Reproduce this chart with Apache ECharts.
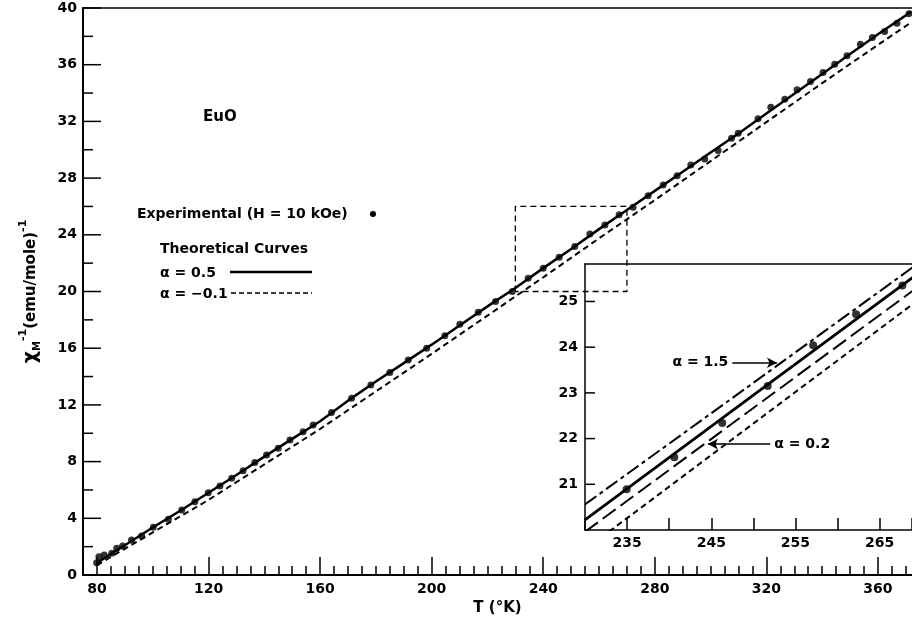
<!DOCTYPE html>
<html><head><meta charset="utf-8">
<script src="https://cdn.jsdelivr.net/npm/echarts@6/dist/echarts.min.js"></script>
<style>html,body{margin:0;padding:0;background:#fff}#c{width:912px;height:623px}</style>
</head><body><div id="c"></div>
<script>
// ---- tick labels ----
const xTickLabels = [80, 120, 160, 200, 240, 280, 320, 360];
const yTickLabels = [0, 4, 8, 12, 16, 20, 24, 28, 32, 36, 40];
const insetXLabels = [235, 245, 255, 265];
const insetYLabels = [21, 22, 23, 24, 25];

// ---- experimental points, main plot (T in K, 1/chi) ----
const expT = [79.9, 80.7, 82.6, 85.3, 87.1, 89.2, 92.4, 96.0, 100.2, 105.6, 110.4, 115.1, 119.9, 124.1, 128.3, 132.4, 136.6, 140.8, 145.0, 149.2, 153.9, 157.5, 164.1, 171.3, 178.2, 185.0, 191.6, 198.2, 204.7, 210.1, 216.7, 222.9, 228.9, 234.6, 240.0, 245.7, 251.3, 256.7, 262.1, 267.2, 272.2, 277.6, 283.0, 288.0, 292.9, 297.9, 302.7, 307.5, 309.9, 317.0, 321.6, 326.6, 331.0, 335.8, 340.3, 344.5, 348.9, 353.7, 358.0, 362.4, 366.8, 371.1];
const expV = [0.87, 1.29, 1.41, 1.53, 1.88, 2.05, 2.47, 2.75, 3.36, 3.93, 4.59, 5.17, 5.81, 6.28, 6.82, 7.36, 7.93, 8.47, 8.94, 9.53, 10.11, 10.59, 11.46, 12.47, 13.41, 14.28, 15.17, 16.0, 16.87, 17.69, 18.54, 19.29, 20.0, 20.94, 21.64, 22.42, 23.17, 24.06, 24.7, 25.41, 25.95, 26.75, 27.52, 28.16, 28.93, 29.34, 29.94, 30.82, 31.17, 32.18, 33.0, 33.57, 34.23, 34.81, 35.45, 36.04, 36.63, 37.45, 37.92, 38.34, 38.93, 39.59];

// ---- theoretical curve alpha = 0.5 (solid) ----
const solidT = [80, 90, 100, 110, 120, 130, 140, 150, 160, 170, 180, 190, 200, 210, 220, 230, 240, 250, 260, 270, 280, 290, 300, 310, 320, 330, 340, 350, 360, 372];
const solidV = [0.85, 2.1, 3.35, 4.55, 5.8, 7.05, 8.35, 9.6, 10.85, 12.3, 13.65, 14.95, 16.25, 17.6, 18.95, 20.25, 21.65, 23.0, 24.4, 25.75, 27.1, 28.45, 29.8, 31.15, 32.55, 33.95, 35.35, 36.75, 38.15, 39.75];

// ---- theoretical curve alpha = -0.1 (dashed) ----
const dashT = [80, 90, 100, 110, 120, 130, 140, 150, 160, 180, 200, 220, 240, 260, 280, 300, 320, 340, 360, 372];
const dashV = [0.7, 1.85, 3.0, 4.15, 5.3, 6.55, 7.8, 9.05, 10.3, 12.95, 15.6, 18.3, 21.0, 23.75, 26.45, 29.2, 31.95, 34.7, 37.4, 39.0];

// ---- zoom box on main plot ----
const boxT = [230, 230, 270, 270, 230];
const boxV = [20, 26, 26, 20, 20];

// ---- inset ----
const insetExpT = [234.95, 240.6, 246.3, 251.7, 257.1, 262.2, 267.7];
const insetExpV = [20.89, 21.59, 22.34, 23.15, 24.04, 24.72, 25.35];
const insetT = [230, 250, 270];
const insetA15 = [20.56, 23.22, 25.89];
const insetA05 = [20.22, 22.95, 25.67];
const insetA02 = [19.96, 22.67, 25.38];
const insetAm01 = [19.57, 22.33, 25.09];
const arrowA15 = [[247.5, 23.66], [252.8, 23.66]];
const arrowA02 = [[252.0, 21.88], [244.6, 21.88]];

const pairs = (a, b) => a.map((v, i) => [v, b[i]]);
const minorX = [];
for (let t = 75; t <= 370; t += 5) minorX.push(t);
// y ticks: [value, length]
const mainYTicks = [];
for (let v = 0; v <= 40; v += 2) mainYTicks.push([v, v % 4 === 0 ? 18 : 10]);
const insetYTicks = insetYLabels.map(v => [v, 10]);

const FONT = 'DejaVu Sans';
const tickLabel = { color: '#000', fontFamily: FONT, fontWeight: 'bold', fontSize: 14 };
const blk = '#000';
const tl = (len, w) => ({ show: true, inside: true, length: len, lineStyle: { color: blk, width: w || 1.5 } });

function yTickRenderer(xLeft) {
  return function (params, api) {
    const v = api.value(0);
    const len = api.value(1);
    const p = api.coord([xLeft, v]);
    return { type: 'line', shape: { x1: p[0], y1: p[1], x2: p[0] + len, y2: p[1] },
      style: { stroke: blk, lineWidth: 1.5 } };
  };
}

const chart = echarts.init(document.getElementById('c'), null, { renderer: 'canvas' });
chart.setOption({
  animation: false,
  backgroundColor: '#fff',
  grid: [
    { left: 83, top: 8, bottom: 48, right: 0, show: false },
    { left: 585, top: 264, bottom: 93, right: 0, show: true, borderWidth: 0, backgroundColor: '#fff', z: 3 }
  ],
  xAxis: [
    { gridIndex: 0, type: 'value', min: 75, max: 372.2, position: 'bottom',
      axisLine: { show: true, lineStyle: { color: blk, width: 2 } },
      axisTick: Object.assign(tl(18), { customValues: xTickLabels }),
      axisLabel: Object.assign({ customValues: xTickLabels, margin: 7 }, tickLabel),
      splitLine: { show: false },
      name: 'T (°K)', nameLocation: 'middle', nameGap: 22,
      nameTextStyle: { color: blk, fontFamily: FONT, fontWeight: 'bold', fontSize: 15, verticalAlign: 'top' } },
    { gridIndex: 0, type: 'value', min: 75, max: 372.2, position: 'bottom',
      axisLine: { show: false },
      axisTick: Object.assign(tl(9), { customValues: minorX }),
      axisLabel: { show: false }, splitLine: { show: false } },
    { gridIndex: 0, type: 'value', min: 75, max: 372.2, position: 'top',
      axisLine: { show: true, lineStyle: { color: blk, width: 1.5 } },
      axisTick: { show: false }, axisLabel: { show: false }, splitLine: { show: false } },
    { gridIndex: 1, type: 'value', min: 230, max: 268.84, interval: 5, z: 4, position: 'bottom',
      axisLine: { show: true, lineStyle: { color: blk, width: 1.5 } },
      axisTick: tl(12),
      axisLabel: Object.assign({ customValues: insetXLabels, margin: 6 }, tickLabel),
      splitLine: { show: false } },
    { gridIndex: 1, type: 'value', min: 230, max: 268.84, z: 4, position: 'top',
      axisLine: { show: true, lineStyle: { color: blk, width: 1.5 } },
      axisTick: { show: false }, axisLabel: { show: false }, splitLine: { show: false } }
  ],
  yAxis: [
    { gridIndex: 0, type: 'value', min: 0, max: 40, interval: 4, position: 'left',
      axisLine: { show: true, lineStyle: { color: blk, width: 2 } },
      axisTick: { show: false },
      axisLabel: Object.assign({ customValues: yTickLabels, margin: 6 }, tickLabel),
      splitLine: { show: false },
      name: '{c|χ}{sub|M}{sup|-1}{p|(emu/mole)}{sup|-1}',
      nameLocation: 'middle', nameRotate: 90, nameGap: 37,
      nameTextStyle: { color: blk, fontFamily: FONT, fontWeight: 'bold',
        rich: {
          c: { fontSize: 19, fontWeight: 'bold', fontFamily: FONT, color: blk, lineHeight: 30, verticalAlign: 'middle' },
          sub: { fontSize: 10, fontWeight: 'bold', fontFamily: FONT, color: blk, lineHeight: 30, verticalAlign: 'bottom', padding: [0, 0, 4, 0] },
          sup: { fontSize: 11, fontWeight: 'bold', fontFamily: FONT, color: blk, lineHeight: 30, verticalAlign: 'top', padding: [2, 0, 0, 0] },
          p: { fontSize: 15, fontWeight: 'bold', fontFamily: FONT, color: blk, lineHeight: 30, verticalAlign: 'middle' }
        } } },
    { gridIndex: 1, type: 'value', min: 20, max: 25.82, interval: 1, z: 4, position: 'left',
      axisLine: { show: true, lineStyle: { color: blk, width: 1.5 } },
      axisTick: { show: false },
      axisLabel: Object.assign({ customValues: insetYLabels, margin: 7 }, tickLabel),
      splitLine: { show: false } }
  ],
  series: [
    { type: 'custom', xAxisIndex: 0, yAxisIndex: 0, data: mainYTicks, silent: true, clip: false, z: 3,
      encode: { x: -1, y: 0 }, renderItem: yTickRenderer(75) },
    { type: 'line', xAxisIndex: 0, yAxisIndex: 0, data: pairs(solidT, solidV), showSymbol: false, z: 2,
      lineStyle: { color: blk, width: 2.5 } },
    { type: 'line', xAxisIndex: 0, yAxisIndex: 0, data: pairs(dashT, dashV), showSymbol: false, z: 2,
      lineStyle: { color: blk, width: 2, type: [6, 4] } },
    { type: 'scatter', xAxisIndex: 0, yAxisIndex: 0, data: pairs(expT, expV), symbol: 'circle', symbolSize: 7, z: 2,
      itemStyle: { color: blk } },
    { type: 'line', xAxisIndex: 0, yAxisIndex: 0, data: pairs(boxT, boxV), showSymbol: false, z: 10, clip: false,
      lineStyle: { color: blk, width: 1.3, type: [6, 4] } },
    // inset
    { type: 'custom', xAxisIndex: 3, yAxisIndex: 1, data: insetYTicks, silent: true, clip: false, z: 8,
      encode: { x: -1, y: 0 }, renderItem: yTickRenderer(230) },
    { type: 'line', xAxisIndex: 3, yAxisIndex: 1, data: pairs(insetT, insetA15), showSymbol: false, z: 6,
      lineStyle: { color: blk, width: 2, type: [14, 4, 4, 4] },
      markLine: { silent: true, symbol: ['none', 'arrow'], symbolSize: [8, 10],
        lineStyle: { color: blk, width: 1.5, type: 'solid' },
        label: { show: true, position: 'start', formatter: 'α = 1.5', color: blk, fontFamily: FONT, fontWeight: 'bold', fontSize: 14, distance: 4 },
        data: [[{ coord: arrowA15[0] }, { coord: arrowA15[1] }]] } },
    { type: 'line', xAxisIndex: 3, yAxisIndex: 1, data: pairs(insetT, insetA05), showSymbol: false, z: 6,
      lineStyle: { color: blk, width: 2.8 } },
    { type: 'line', xAxisIndex: 3, yAxisIndex: 1, data: pairs(insetT, insetA02), showSymbol: false, z: 6,
      lineStyle: { color: blk, width: 2, type: [16, 6] },
      markLine: { silent: true, symbol: ['none', 'arrow'], symbolSize: [8, 10],
        lineStyle: { color: blk, width: 1.5, type: 'solid' },
        label: { show: true, position: 'start', formatter: 'α = 0.2', color: blk, fontFamily: FONT, fontWeight: 'bold', fontSize: 14, distance: 4 },
        data: [[{ coord: arrowA02[0] }, { coord: arrowA02[1] }]] } },
    { type: 'line', xAxisIndex: 3, yAxisIndex: 1, data: pairs(insetT, insetAm01), showSymbol: false, z: 6,
      lineStyle: { color: blk, width: 2, type: [6, 4] } },
    { type: 'scatter', xAxisIndex: 3, yAxisIndex: 1, data: pairs(insetExpT, insetExpV), symbol: 'circle', symbolSize: 8, z: 7,
      itemStyle: { color: blk } }
  ],
  graphic: [
    { type: 'text', x: 203, y: 117, z: 20, style: { text: 'EuO', fill: blk, font: 'bold 15px "DejaVu Sans"', verticalAlign: 'middle' } },
    { type: 'text', x: 137, y: 214, z: 20, style: { text: 'Experimental (H = 10 kOe)', fill: blk, font: 'bold 14px "DejaVu Sans"', verticalAlign: 'middle' } },
    { type: 'circle', z: 20, shape: { cx: 373, cy: 214, r: 3 }, style: { fill: blk } },
    { type: 'text', x: 160, y: 249, z: 20, style: { text: 'Theoretical Curves', fill: blk, font: 'bold 14px "DejaVu Sans"', verticalAlign: 'middle' } },
    { type: 'text', x: 160, y: 273, z: 20, style: { text: 'α = 0.5', fill: blk, font: 'bold 14px "DejaVu Sans"', verticalAlign: 'middle' } },
    { type: 'line', z: 20, shape: { x1: 230, y1: 272, x2: 312, y2: 272 }, style: { stroke: blk, lineWidth: 2.5 } },
    { type: 'text', x: 160, y: 294, z: 20, style: { text: 'α = −0.1', fill: blk, font: 'bold 14px "DejaVu Sans"', verticalAlign: 'middle' } },
    { type: 'line', z: 20, shape: { x1: 231, y1: 293, x2: 312, y2: 293 }, style: { stroke: blk, lineWidth: 1.5, lineDash: [5, 3] } }
  ]
});
</script>
</body></html>
